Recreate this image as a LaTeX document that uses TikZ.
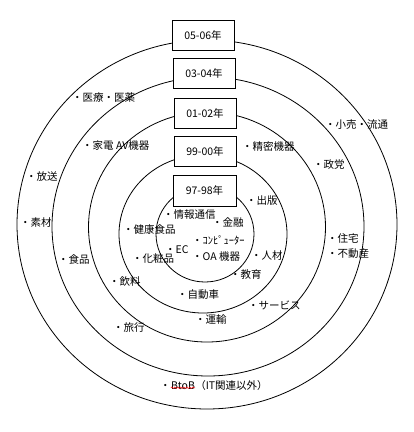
\documentclass[tikz,border=0pt]{standalone}
\usepackage{fontspec}
\setmainfont{Noto Sans CJK JP}
\usetikzlibrary{decorations.pathmorphing}
\begin{document}
\begin{tikzpicture}[x=1pt,y=-1pt,
  ring/.style={draw=black, line width=0.8pt},
  yearbox/.style={draw=black, line width=0.8pt, fill=white, minimum width=62pt, minimum height=30pt, inner sep=0pt, font=\fontsize{10.5pt}{12pt}\selectfont},
  lab/.style={anchor=west, inner sep=0pt, font=\fontsize{10.5pt}{12pt}\selectfont},
  squiggle/.style={draw=red, line width=0.5pt, decorate, decoration={snake, amplitude=0.8pt, segment length=3pt}}]
\useasboundingbox[fill=white] (0,0) rectangle (414,432);
% rings
\draw[ring] (207,224.5) ellipse [x radius=190pt, y radius=184.5pt];
\draw[ring] (208,226.5) ellipse [x radius=156pt, y radius=149.5pt];
\draw[ring] (207,227) ellipse [x radius=118.5pt, y radius=115pt];
\draw[ring] (203,234) ellipse [x radius=84pt, y radius=79pt];
\draw[ring] (205,234) ellipse [x radius=49pt, y radius=48pt];
% year boxes
\node[yearbox] (y0506) at (203,35) {05-06年};
\node[yearbox] (y0304) at (204,73) {03-04年};
\node[yearbox] (y0102) at (205,113.5) {01-02年};
\node[yearbox] (y9900) at (205,151) {99-00年};
\node[yearbox, minimum width=63pt, minimum height=31pt] (y9798) at (204.5,190.5) {97-98年};
% labels
\node[lab] (l1) at (72,98) {・医療・医薬};
\node[lab] (l2) at (325,125) {・小売・流通};
\node[lab] (l3) at (82,146) {・家電 AV機器};
\node[lab] (l4) at (242,146.7) {・精密機器};
\node[lab] (l5) at (313,165) {・政党};
\node[lab] (l6) at (26,177) {・放送};
\node[lab] (l7) at (246,200) {・出版};
\node[lab] (l8) at (163,215) {・情報通信};
\node[lab] (l9) at (20,222) {・素材};
\node[lab] (l10) at (212,223) {・金融};
\node[lab] (l11) at (123,230) {・健康食品};
\node[lab] (l12) at (192,240) {・ｺﾝﾋﾟｭｰﾀｰ};
\node[lab] (l13) at (327,238) {・住宅};
\node[lab] (l14) at (327,254) {・不動産};
\node[lab] (l15) at (165,250) {・EC};
\node[lab] (l16) at (192,256.7) {・OA 機器};
\node[lab] (l17) at (251,255) {・人材};
\node[lab] (l18) at (58,259) {・食品};
\node[lab] (l19) at (132,258.7) {・化粧品};
\node[lab] (l20) at (109,281.7) {・飲料};
\node[lab] (l21) at (230,275) {・教育};
\node[lab] (l22) at (177,295) {・自動車};
\node[lab] (l23) at (248,305) {・サービス};
\node[lab] (l24) at (195,320) {・運輸};
\node[lab] (l25) at (113,328) {・旅行};
\node[lab] (b1) at (160,386.7) {・};
\node[lab, anchor=base west] (btob) at (b1.base east) {BtoB};
\node[lab, anchor=base west] (b3) at (btob.base east) {（IT関連以外）};
\draw[squiggle] ([yshift=1.5pt]btob.base west) -- ([yshift=1.5pt]btob.base east);
\end{tikzpicture}
\end{document}
